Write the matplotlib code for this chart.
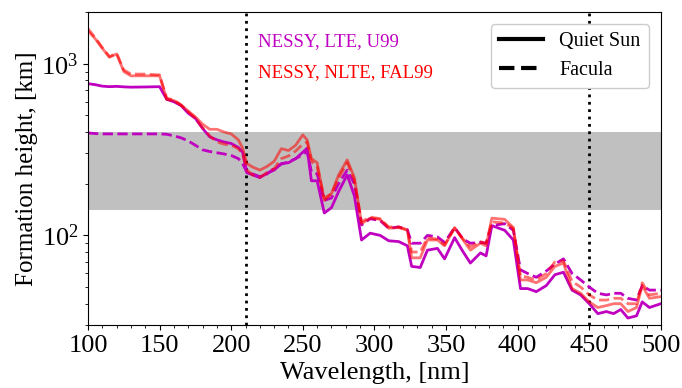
import numpy as np
import matplotlib
matplotlib.use('Agg')
import matplotlib.pyplot as plt
from matplotlib.lines import Line2D

plt.rcParams['font.family'] = ['Liberation Serif', 'DejaVu Serif']
plt.rcParams['mathtext.fontset'] = 'stix'

# wavelength grid, nm
wl = [100, 105, 110, 115, 120, 125, 130, 140, 150, 155, 160, 165, 170, 175, 180, 185,
      190, 195, 200, 205, 208, 211, 215, 220, 225, 230, 235, 240, 245, 250, 253, 256,
      260, 265, 270, 275, 281, 286, 291, 297, 304, 310, 317, 323, 326, 332, 337, 344,
      349, 356, 362, 367, 374, 378, 382, 391, 397, 402, 407, 413, 420, 426, 432, 438,
      444, 450, 456, 462, 467, 472, 477, 483, 487, 492, 500]

# formation heights, km
lte_qs = [765, 755, 740, 735, 738, 733, 730, 732, 735, 620, 600, 570, 515, 480, 420, 375,
          360, 350, 343, 325, 305, 232, 225, 217, 230, 240, 262, 265, 280, 305, 322, 208,
          208, 135, 145, 180, 225, 170, 94, 103, 100, 93, 92, 87, 66, 65, 82, 84,
          73, 97, 80, 69, 79, 76, 114, 107, 94, 49, 49, 47, 51, 59, 61, 48,
          45, 40, 35, 36, 35, 37, 33, 34, 41, 38, 40]

lte_fac = [395, 392, 390, 390, 390, 390, 390, 390, 390, 388, 380, 370, 355, 335, 315, 308,
           303, 298, 292, 280, 262, 232, 228, 220, 228, 245, 260, 268, 280, 295, 310, 235,
           228, 160, 165, 200, 240, 200, 115, 125, 122, 110, 112, 108, 90, 90, 100, 98,
           91, 111, 95, 90, 91, 90, 114, 117, 107, 63, 60, 57, 62, 68, 73, 60,
           55, 50, 46, 45, 46, 46, 43, 42, 51, 48, 48]

nlte_qs = [1550, 1400, 1230, 1090, 1140, 900, 850, 850, 850, 620, 610, 575, 530, 490, 445, 415,
           415, 400, 390, 360, 322, 262, 250, 240, 252, 270, 320, 312, 335, 385, 360, 280,
           265, 160, 175, 225, 275, 217, 117, 126, 124, 110, 111, 107, 74, 74, 94, 94,
           87, 111, 94, 82, 90, 87, 126, 124, 111, 55, 55, 53, 57, 66, 69, 49,
           46, 41, 38, 39, 40, 40, 36, 38, 51, 43, 44]

nlte_fac = [1600, 1420, 1240, 1100, 1150, 920, 870, 870, 860, 630, 615, 575, 525, 480, 425, 380,
            350, 340, 335, 320, 295, 240, 225, 218, 232, 245, 280, 290, 310, 340, 350, 270,
            250, 165, 175, 215, 265, 210, 120, 128, 125, 112, 112, 108, 80, 80, 97, 95,
            88, 110, 95, 86, 92, 90, 120, 118, 110, 58, 57, 55, 60, 70, 71, 54,
            50, 45, 42, 42, 43, 43, 40, 40, 53, 45, 46]

fig = plt.figure(figsize=(6.82, 3.88), dpi=100)
ax = fig.add_axes([0.129, 0.162, 0.840, 0.807])

ax.axhspan(140, 400, color='silver', lw=0)
ax.axvline(210, color='k', ls=':', lw=2)
ax.axvline(450, color='k', ls=':', lw=2)

mag = '#c000c0'
ax.plot(wl, lte_qs, color=mag, lw=2)
ax.plot(wl, lte_fac, color=mag, lw=2, ls='--')
ax.plot(wl, nlte_qs, color='red', lw=2, alpha=0.55)
ax.plot(wl, nlte_fac, color='red', lw=2, ls='--', alpha=0.55)

ax.set_yscale('log')
ax.set_xlim(100, 500)
ax.set_ylim(30, 2000)
ax.set_xticks(np.arange(100, 501, 50))
ax.set_xticks(np.arange(100, 501, 10), minor=True)
ax.tick_params(labelsize=19)
ax.set_xlabel('Wavelength, [nm]', fontsize=19, labelpad=4)
ax.set_ylabel('Formation height, [km]', fontsize=18, labelpad=2)

ax.text(0.297, 0.904, 'NESSY, LTE, U99', color=mag, fontsize=13.5,
        transform=ax.transAxes, va='center')
ax.text(0.297, 0.805, 'NESSY, NLTE, FAL99', color='red', fontsize=13.5,
        transform=ax.transAxes, va='center')

handles = [Line2D([], [], color='k', lw=3),
           Line2D([], [], color='k', lw=3, ls='--')]
ax.legend(handles, ['Quiet Sun', 'Facula'], loc='upper right', fontsize=14.5,
          framealpha=1, handlelength=2.2, borderaxespad=0.6)

fig.savefig('out.png', dpi=100)
